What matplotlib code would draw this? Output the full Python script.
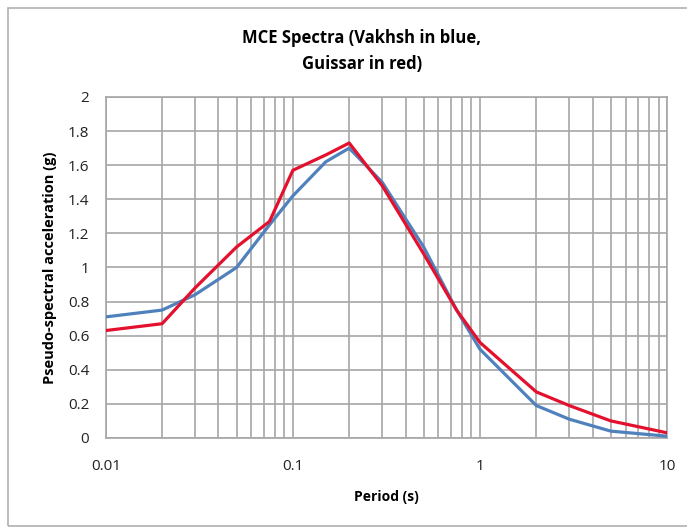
import matplotlib.pyplot as plt
from matplotlib.ticker import FixedLocator, LogLocator, NullFormatter
from matplotlib.patches import Rectangle

# Periods (s)
period = [0.01, 0.02, 0.03, 0.05, 0.075, 0.1, 0.15, 0.2, 0.3, 0.5, 0.75, 1, 2, 3, 5, 10]

# Pseudo-spectral acceleration (g)
vakhsh = [0.71, 0.75, 0.84, 1.00, 1.25, 1.42, 1.62, 1.70, 1.50, 1.12, 0.75, 0.52, 0.19, 0.11, 0.04, 0.01]
guissar = [0.63, 0.67, 0.88, 1.12, 1.27, 1.57, 1.66, 1.73, 1.48, 1.08, 0.75, 0.56, 0.27, 0.19, 0.10, 0.03]

xticks = [0.01, 0.1, 1, 10]
xticklabels = ['0.01', '0.1', '1', '10']
yticks = [0, 0.2, 0.4, 0.6, 0.8, 1, 1.2, 1.4, 1.6, 1.8, 2]
yticklabels = ['0', '0.2', '0.4', '0.6', '0.8', '1', '1.2', '1.4', '1.6', '1.8', '2']

plt.rcParams['font.family'] = ['Open Sans', 'DejaVu Sans']

fig = plt.figure(figsize=(6.87, 5.27), dpi=100)
ax = fig.add_axes([0.154, 0.169, 0.817, 0.647])

# outer chart border
fig.patches.append(Rectangle((8 / 687, 1 / 527), 690 / 687, 518 / 527, transform=fig.transFigure,
                             fill=False, edgecolor='#b0b0b0', linewidth=1.2))

ax.plot(period, vakhsh, color='#4f81bd', linewidth=2.3, zorder=3)
ax.plot(period, guissar, color='#e4112e', linewidth=2.3, zorder=4)

ax.set_xscale('log')
ax.set_xlim(0.01, 10)
ax.set_ylim(0, 2)
ax.xaxis.set_major_locator(FixedLocator(xticks))
ax.set_xticklabels(xticklabels)
ax.xaxis.set_minor_locator(LogLocator(base=10, subs=range(2, 10)))
ax.xaxis.set_minor_formatter(NullFormatter())
ax.set_yticks(yticks)
ax.set_yticklabels(yticklabels)

ax.grid(True, which='major', color='#a6a6a6', linewidth=1.2)
ax.grid(True, which='minor', axis='x', color='#a6a6a6', linewidth=1.2)
ax.set_axisbelow(True)
for s in ax.spines.values():
    s.set_color('#a6a6a6')
    s.set_linewidth(1.2)
ax.tick_params(which='both', length=0, labelsize=11, colors='#222222')
ax.tick_params(axis='x', pad=15)
ax.tick_params(axis='y', pad=12)

ax.set_xlabel('Period (s)', fontsize=10, fontweight='bold', labelpad=12)
ax.set_ylabel('Pseudo-spectral acceleration (g)', fontsize=10.5, fontweight='bold', labelpad=8)
ax.set_title('MCE Spectra (Vakhsh in blue,\nGuissar in red)', fontsize=12, fontweight='bold',
             linespacing=1.55, pad=20, x=0.456)

fig.savefig('out.png', dpi=100)
